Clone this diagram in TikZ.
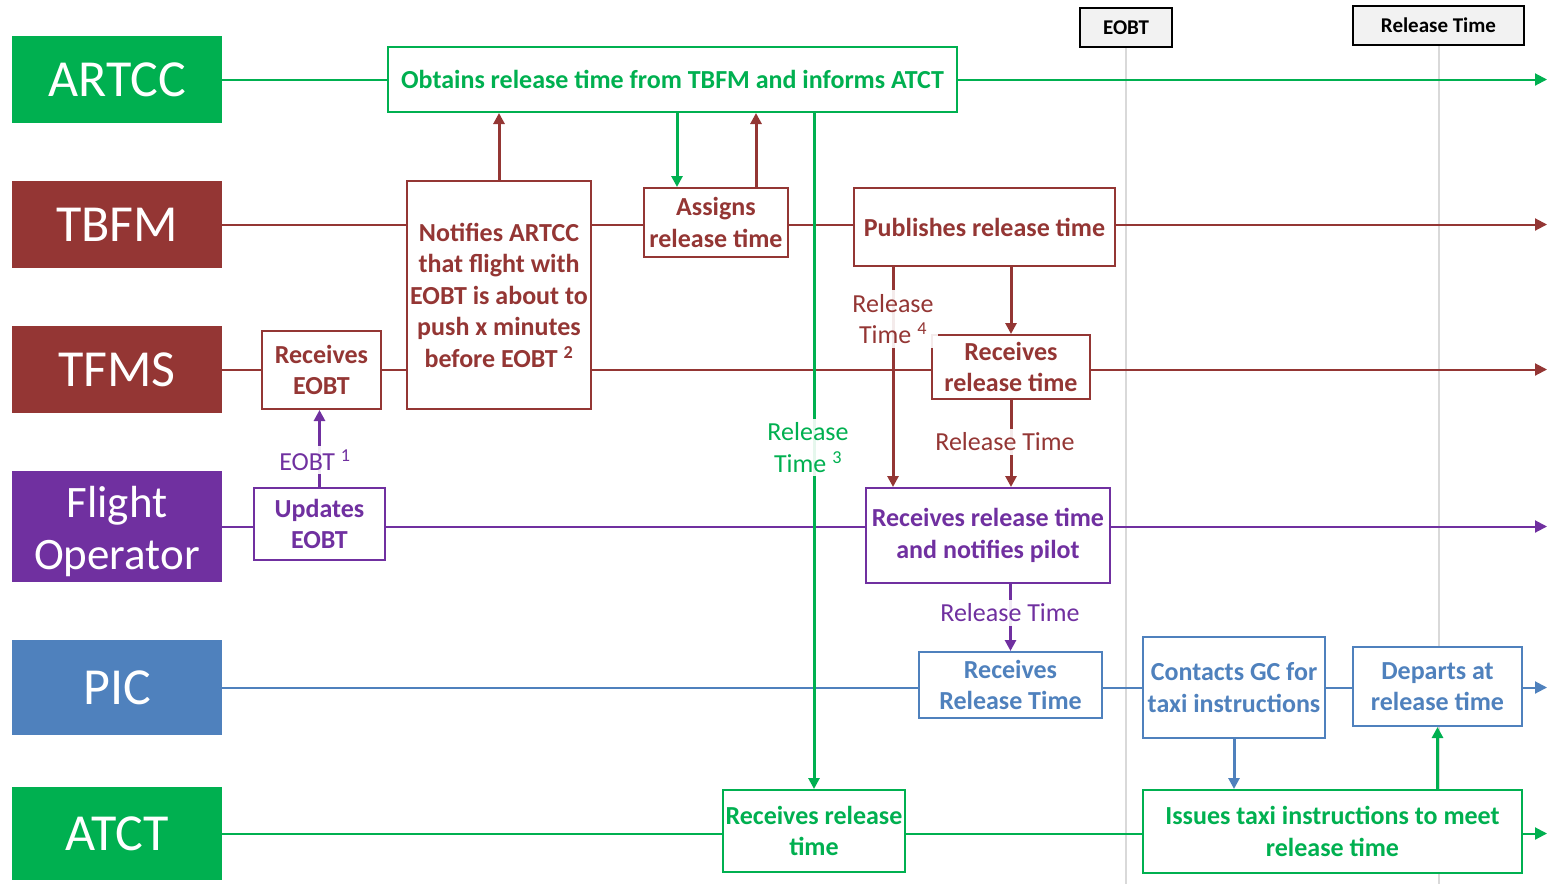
\documentclass[tikz,border=0pt]{standalone}
\usepackage{fontspec}
\setmainfont{Carlito}
\usetikzlibrary{arrows.meta}
\definecolor{cgreen}{HTML}{00B050}
\definecolor{cred}{HTML}{943634}
\definecolor{cpurple}{HTML}{7030A0}
\definecolor{cblue}{HTML}{4F81BD}
\definecolor{cgrid}{HTML}{D9D9D9}
\definecolor{cmark}{HTML}{F2F2F2}
\tikzset{
  lanebox/.style={fill=#1, text=white, inner sep=0pt, minimum width=210pt,
    align=center, font=\fontsize{52}{60}\selectfont},
  stepbox/.style={draw=#1, text=#1, line width=2pt, fill=white, inner sep=0pt,
    align=center, font=\bfseries\fontsize{26}{31.5}\selectfont},
  markbox/.style={draw=black, fill=cmark, line width=2pt, inner sep=0pt,
    font=\bfseries\fontsize{21}{25}\selectfont},
  laneline/.style={draw=#1, line width=2pt, -{Triangle[length=12pt,width=12pt]}},
  flow/.style={draw=#1, line width=3pt, -{Triangle[length=11pt,width=11pt]}},
  flowlabel/.style={text=#1, fill=white, fill opacity=0.9, text opacity=1,
    inner sep=4pt, align=center, font=\fontsize{26}{31.5}\selectfont},
  gridline/.style={draw=cgrid, line width=2pt}
}
\begin{document}
\begin{tikzpicture}[x=1pt, y=-1pt]
\useasboundingbox (0,0) rectangle (1547,884);
\coordinate (rightend) at (1547,0);
\coordinate (bottom) at (0,884);

% time markers and their guide lines
\node[markbox, minimum width=92pt, minimum height=39pt] (eobt) at (1126,27.5) {EOBT};
\node[markbox, minimum width=171pt, minimum height=39pt] (reltime) at (1438.5,25.5) {Release Time};
\draw[gridline] (eobt.south) -- (eobt.south |- bottom);
\draw[gridline] (reltime.south) -- (reltime.south |- bottom);

% swim lanes
\node[lanebox=cgreen, minimum height=87pt] (artcc) at (117,79.5) {ARTCC};
\node[lanebox=cred, minimum height=87pt] (tbfm) at (117,224.5) {TBFM};
\node[lanebox=cred, minimum height=87pt] (tfms) at (117,369.5) {TFMS};
\node[lanebox=cpurple, minimum height=111pt, font=\fontsize{45}{52}\selectfont]
  (fo) at (117,526.5) {\rule{0pt}{42pt}Flight\\Operator};
\node[lanebox=cblue, minimum height=95pt] (pic) at (117,687.5) {PIC};
\node[lanebox=cgreen, minimum height=93pt] (atct) at (117,833.5) {ATCT};

\draw[laneline=cgreen] (artcc.east) -- (artcc.east -| rightend);
\draw[laneline=cred] (tbfm.east) -- (tbfm.east -| rightend);
\draw[laneline=cred] (tfms.east) -- (tfms.east -| rightend);
\draw[laneline=cpurple] (fo.east) -- (fo.east -| rightend);
\draw[laneline=cblue] (pic.east) -- (pic.east -| rightend);
\draw[laneline=cgreen] (atct.east) -- (atct.east -| rightend);

% process steps
\node[stepbox=cgreen, minimum width=569pt, minimum height=65pt] (obtains) at (672.5,79.5)
  {Obtains release time from TBFM and informs ATCT};
\node[stepbox=cred, minimum width=184pt, minimum height=228pt] (notify) at (499,295)
  {Notifies ARTCC\\that flight with\\EOBT is about to\\push x minutes\\before EOBT \textsuperscript{2}};
\node[stepbox=cred, minimum width=144pt, minimum height=69pt] (assigns) at (716,222.5)
  {Assigns\\release time};
\node[stepbox=cred, minimum width=261pt, minimum height=78pt] (publish) at (984.5,227)
  {Publishes release time};
\node[stepbox=cred, minimum width=119pt, minimum height=78pt] (receobt) at (321.5,370)
  {Receives\\EOBT};
\node[stepbox=cpurple, minimum width=131pt, minimum height=72pt] (updeobt) at (319.5,524)
  {Updates\\EOBT};
\node[stepbox=cred, minimum width=158pt, minimum height=64pt] (rectfms) at (1011,367)
  {Receives\\release time};
\node[stepbox=cpurple, minimum width=244pt, minimum height=95pt] (recfo) at (988,535.5)
  {Receives release time\\and notifies pilot};
\node[stepbox=cblue, minimum width=183pt, minimum height=66pt] (recpic) at (1010.5,685)
  {Receives\\Release Time};
\node[stepbox=cblue, minimum width=182pt, minimum height=101pt] (contacts) at (1234,687.5)
  {Contacts GC for\\taxi instructions};
\node[stepbox=cblue, minimum width=169pt, minimum height=79pt] (departs) at (1437.5,686.5)
  {Departs at\\release time};
\node[stepbox=cgreen, minimum width=182pt, minimum height=82pt] (recatct) at (814,831)
  {Receives release\\time};
\node[stepbox=cgreen, minimum width=379pt, minimum height=83pt] (issues) at (1332.5,831.5)
  {Issues taxi instructions to meet\\release time};

% information flows
\draw[flow=cred] (notify.north) -- (notify.north |- obtains.south);
\draw[flow=cgreen] ([xshift=-39pt]assigns.north |- obtains.south) -- ([xshift=-39pt]assigns.north);
\draw[flow=cred] ([xshift=40pt]assigns.north) -- ([xshift=40pt]assigns.north |- obtains.south);
\draw[flow=cgreen] (recatct.north |- obtains.south) -- (recatct.north);
\draw[flow=cred] ([xshift=-91.5pt]publish.south) -- ([xshift=-91.5pt]publish.south |- recfo.north);
\draw[flow=cred] (rectfms.north |- publish.south) -- (rectfms.north);
\draw[flow=cred] (rectfms.south) -- (rectfms.south |- recfo.north);
\draw[flow=cpurple] (recpic.north |- recfo.south) -- (recpic.north);
\draw[flow=cpurple] (updeobt.north) -- (updeobt.north |- receobt.south);
\draw[flow=cblue] (contacts.south) -- (contacts.south |- issues.north);
\draw[flow=cgreen] (departs.south |- issues.north) -- (departs.south);

% flow labels
\node[flowlabel=cpurple] (lbleobt) at (315,460) {EOBT \textsuperscript{1}};
\node[flowlabel=cgreen] (lblrt3) at (808,447.5) {Release\\Time \textsuperscript{3}};
\node[flowlabel=cred] (lblrt4) at (893,319) {Release\\Time \textsuperscript{4}};
\node[flowlabel=cred] (lblrt) at (1005,442) {Release Time};
\node[flowlabel=cpurple] (lblrtp) at (1010,613) {Release Time};
\end{tikzpicture}
\end{document}
